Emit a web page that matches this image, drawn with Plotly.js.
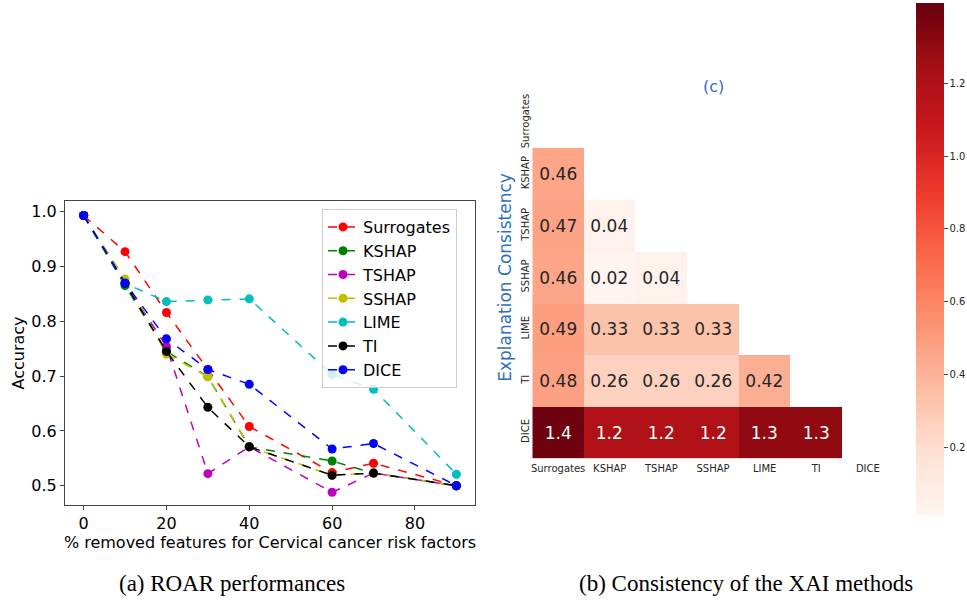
<!DOCTYPE html>
<html>
<head>
<meta charset="utf-8">
<script src="https://cdn.plot.ly/plotly-3.0.1.min.js"></script>
<style>
  html, body { margin: 0; padding: 0; background: #fff; }
  #chart { width: 967px; height: 605px; }
</style>
</head>
<body>
<div id="chart"></div>
<script>
// ROAR: accuracy after removing a percentage of features
const removedPct = [0, 10, 20, 30, 40, 60, 70, 90];
const accSurrogates = [0.993, 0.927, 0.816, 0.712, 0.608, 0.524, 0.541, 0.500];
const accKSHAP      = [0.993, 0.865, 0.745, 0.699, 0.571, 0.545, 0.523, 0.500];
const accTSHAP      = [0.993, 0.870, 0.754, 0.522, 0.571, 0.488, 0.523, 0.500];
const accSSHAP      = [0.993, 0.877, 0.740, 0.699, 0.571, 0.519, 0.523, 0.500];
const accLIME       = [0.993, 0.869, 0.836, 0.839, 0.841, 0.703, 0.676, 0.521];
const accTI         = [0.993, 0.869, 0.745, 0.643, 0.571, 0.519, 0.523, 0.500];
const accDICE       = [0.993, 0.870, 0.768, 0.712, 0.685, 0.567, 0.577, 0.500];

const seriesNames = ["Surrogates", "KSHAP", "TSHAP", "SSHAP", "LIME", "TI", "DICE"];
const seriesValues = [accSurrogates, accKSHAP, accTSHAP, accSSHAP, accLIME, accTI, accDICE];
const seriesColors = ["#ff0000", "#008000", "#bf00bf", "#bfbf00", "#00bfbf", "#000000", "#0000ff"];

// Explanation consistency, lower triangle (row i has i entries)
const methods = ["Surrogates", "KSHAP", "TSHAP", "SSHAP", "LIME", "TI", "DICE"];
const consistencyRows = [
  [],
  [0.46],
  [0.47, 0.04],
  [0.46, 0.02, 0.04],
  [0.49, 0.33, 0.33, 0.33],
  [0.48, 0.26, 0.26, 0.26, 0.42],
  [1.4, 1.2, 1.2, 1.2, 1.3, 1.3]
];
const colorTicks = [0.2, 0.4, 0.6, 0.8, 1.0, 1.2];

// matplotlib "Reds"
const reds = [
  [0.0, "#fff5f0"], [0.125, "#fee0d2"], [0.25, "#fcbba1"], [0.375, "#fc9272"],
  [0.5, "#fb6a4a"], [0.625, "#ef3b2c"], [0.75, "#cb181d"], [0.875, "#a50f15"], [1.0, "#67000d"]
];

const traces = [];
seriesNames.forEach((name, i) => {
  traces.push({
    type: "scatter", mode: "lines+markers", name: name,
    x: removedPct, y: seriesValues[i], xaxis: "x", yaxis: "y",
    line: { color: seriesColors[i], width: 1.5, dash: "dash" },
    marker: { color: seriesColors[i], size: 9 },
    hoverinfo: "x+y+name"
  });
});

// split cells into light and dark so the value text can contrast with the cell
const n = methods.length;
const zLight = [], zDark = [];
for (let r = 0; r < n; r++) {
  const rowL = [], rowD = [];
  for (let c = 0; c < n; c++) {
    const v = c < consistencyRows[r].length ? consistencyRows[r][c] : null;
    rowL.push(v !== null && v < 0.8 ? v : null);
    rowD.push(v !== null && v >= 0.8 ? v : null);
  }
  zLight.push(rowL);
  zDark.push(rowD);
}
[[zLight, "#262626"], [zDark, "#ffffff"]].forEach(([z, tc]) => {
  traces.push({
    type: "heatmap", x: methods, y: methods, z: z,
    xaxis: "x2", yaxis: "y2", coloraxis: "coloraxis",
    texttemplate: "%{z}", textfont: { size: 17, color: tc, family: "DejaVu Sans" },
    showlegend: false, hoverongaps: false, xgap: 0, ygap: 0
  });
});

const W = 967, H = 605;
const px = v => v / W;
const py = v => 1 - v / H;
const blue = "#2f6fc0";

const layout = {
  width: W, height: H,
  margin: { l: 0, r: 0, t: 0, b: 0 },
  paper_bgcolor: "#ffffff", plot_bgcolor: "#ffffff",
  font: { family: "DejaVu Sans", color: "#000000" },
  showlegend: true,
  legend: {
    x: px(322), y: py(209), xanchor: "left", yanchor: "top",
    bgcolor: "rgba(255,255,255,0.8)", bordercolor: "#cccccc", borderwidth: 1,
    font: { size: 16, family: "DejaVu Sans", color: "#000000" }
  },
  xaxis: {
    domain: [px(65), px(475)], anchor: "y",
    range: [-4.5, 94.5], tickvals: [0, 20, 40, 60, 80],
    showgrid: false, zeroline: false,
    showline: true, mirror: true, linecolor: "#444444", linewidth: 1,
    ticks: "outside", ticklen: 4, tickcolor: "#444444",
    tickfont: { size: 16, color: "#000000" },
    title: { text: "% removed features for Cervical cancer risk factors", font: { size: 16, color: "#000000" }, standoff: 0 }
  },
  yaxis: {
    domain: [py(505), py(201)], anchor: "x",
    range: [0.4648, 1.0195], tickvals: [0.5, 0.6, 0.7, 0.8, 0.9, 1.0], tickformat: ".1f",
    showgrid: false, zeroline: false,
    showline: true, mirror: true, linecolor: "#444444", linewidth: 1,
    ticks: "outside", ticklen: 4, tickcolor: "#444444",
    tickfont: { size: 16, color: "#000000" },
    title: { text: "Accuracy", font: { size: 16, color: "#000000" }, standoff: 2 }
  },
  xaxis2: {
    domain: [px(532.3), px(893.7)], anchor: "y2",
    type: "category", categoryorder: "array", categoryarray: methods,
    range: [-0.5, 6.5], showgrid: false, zeroline: false, showline: false,
    ticks: "", tickfont: { size: 10, color: "#262626" }, tickangle: 0, ticklabelstandoff: 3
  },
  yaxis2: {
    domain: [py(458.3), py(96.7)], anchor: "x2",
    type: "category", categoryorder: "array", categoryarray: methods,
    range: [6.5, -0.5], showgrid: false, zeroline: false, showline: false,
    ticks: "", tickfont: { size: 10, color: "#262626" }, tickangle: -90,
    title: { text: "Explanation Consistency", font: { size: 17, color: blue }, standoff: 4 }
  },
  coloraxis: {
    colorscale: reds, cmin: 0.015, cmax: 1.42,
    colorbar: {
      x: px(916), xanchor: "left", y: py(3), yanchor: "top",
      len: 512, lenmode: "pixels", thickness: 28, thicknessmode: "pixels",
      xpad: 0, ypad: 0, outlinewidth: 0,
      tickvals: colorTicks, tickformat: ".1f",
      ticks: "outside", ticklen: 4, tickcolor: "#444444",
      tickfont: { size: 10, color: "#262626" }
    }
  },
  annotations: [
    { text: "(c)", x: px(713), y: py(87), xref: "paper", yref: "paper", xanchor: "center", yanchor: "middle", showarrow: false,
      font: { size: 16, color: blue } },
    { text: "(a) ROAR performances", x: px(232), y: py(583), xref: "paper", yref: "paper", xanchor: "center", yanchor: "middle", showarrow: false,
      font: { size: 23, family: "Liberation Serif", color: "#000000" } },
    { text: "(b) Consistency of the XAI methods", x: px(746), y: py(583), xref: "paper", yref: "paper", xanchor: "center", yanchor: "middle", showarrow: false,
      font: { size: 23, family: "Liberation Serif", color: "#000000" } }
  ]
};

Plotly.newPlot("chart", traces, layout, { displayModeBar: false, staticPlot: true });
</script>
</body>
</html>
